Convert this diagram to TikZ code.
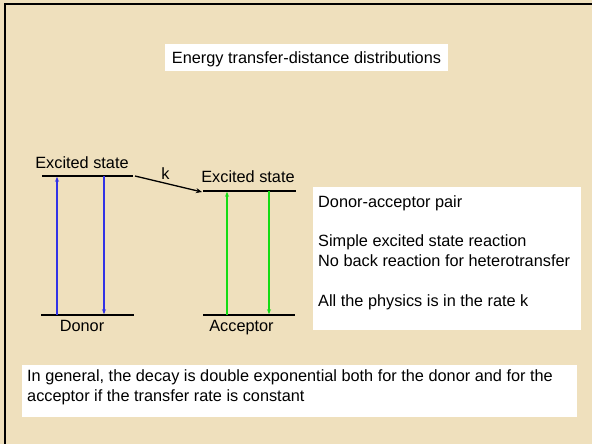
\documentclass[tikz,border=0pt]{standalone}
\usepackage{fontspec}
\setmainfont{Liberation Sans}
\usetikzlibrary{arrows.meta}
\definecolor{parch}{RGB}{239,224,189}
\definecolor{bluearr}{RGB}{50,50,230}
\definecolor{greenarr}{RGB}{20,220,20}
\tikzset{
  txt/.style={font=\fontsize{16.3}{19.8}\selectfont, inner sep=0pt},
  whitebox/.style={fill=white, draw=none, inner sep=0pt},
  level/.style={line width=1.5pt, black},
  transfer/.style={line width=1.3pt, black, -{Stealth[length=6pt,width=5pt]}},
  bluetr/.style={line width=1.2pt, bluearr, -{Stealth[length=5pt,width=4pt]}},
  greentr/.style={line width=1.4pt, greenarr, -{Stealth[length=5pt,width=4pt]}}
}
\begin{document}
\begin{tikzpicture}[x=1pt,y=-1pt]
\useasboundingbox (0,0) rectangle (592,444);
\fill[parch] (0,0) rectangle (592,444);
\draw[line width=2.5pt, black] (5,444) -- (5,4) -- (592,4);

% title
\node[whitebox, anchor=north west, minimum width=283pt, minimum height=27pt] (titlebox) at (165,44) {};
\node[txt, anchor=base] (title) at (306.5,63.3) {Energy transfer-distance distributions};

% donor levels
\coordinate (dEl) at (42,176);
\coordinate (dEr) at (133,176);
\coordinate (dGl) at (41,315);
\coordinate (dGr) at (134,315);
\draw[level] (dEl) -- (dEr);
\draw[level] (dGl) -- (dGr);
\node[txt, anchor=base] (dexc) at (82,168.3) {Excited state};
\node[txt, anchor=base] (donor) at (82,331.5) {Donor};

% acceptor levels
\coordinate (aEl) at (203,191);
\coordinate (aEr) at (296,191);
\coordinate (aGl) at (203,315);
\coordinate (aGr) at (295,315);
\draw[level] (aEl) -- (aEr);
\draw[level] (aGl) -- (aGr);
\node[txt, anchor=base] (aexc) at (248,182.7) {Excited state};
\node[txt, anchor=base] (acceptor) at (241.5,331.5) {Acceptor};

% donor transitions
\coordinate (dupB) at (57,315);
\coordinate (dupT) at (57,176.8);
\coordinate (ddnT) at (104,176);
\coordinate (ddnB) at (104,314.2);
\draw[bluetr] (dupB) -- (dupT);
\draw[bluetr] (ddnT) -- (ddnB);

% acceptor transitions
\coordinate (aupB) at (227,315);
\coordinate (aupT) at (227,191.8);
\coordinate (adnT) at (269,191);
\coordinate (adnB) at (269,314.2);
\draw[greentr] (aupB) -- (aupT);
\draw[greentr] (adnT) -- (adnB);

% transfer
\coordinate (kS) at (135,176);
\coordinate (kE) at (202,192);
\draw[transfer] (kS) -- (kE);
\node[txt, anchor=base] (k) at (165.5,179) {k};

% right box
\node[whitebox, anchor=north west, minimum width=268pt, minimum height=143pt] (rbox) at (313,187) {};
\node[txt, anchor=north west, align=left] (rtext) at (318,195)
  {Donor-acceptor pair\\[19.8pt]Simple excited state reaction\\No back reaction for heterotransfer\\[19.8pt]All the physics is in the rate k};

% bottom box
\node[whitebox, anchor=north west, minimum width=555.5pt, minimum height=52pt] (bbox) at (21.5,365) {};
\node[txt, anchor=north west, align=left] (btext) at (27,369.2)
  {In general, the decay is double exponential both for the donor and for the\\acceptor if the transfer rate is constant};
\end{tikzpicture}
\end{document}
